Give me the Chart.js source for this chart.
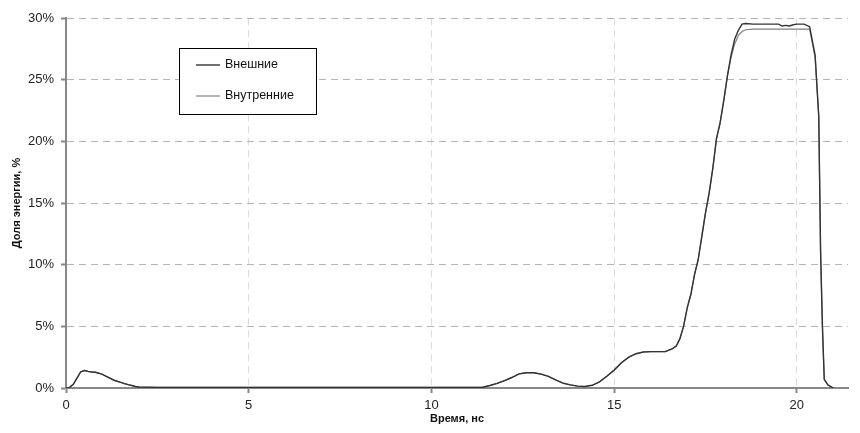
<!DOCTYPE html>
<html>
<head>
<meta charset="utf-8">
<script src="https://cdn.jsdelivr.net/npm/chart.js@4.4.0/dist/chart.umd.min.js"></script>
<style>
  html, body { margin: 0; padding: 0; background: #fff; }
</style>
</head>
<body>
<canvas id="energyChart" width="860" height="433"></canvas>
<script>
// время, нс
const timeNs = [0, 0.1, 0.2, 0.3, 0.4, 0.5, 0.6, 0.7, 0.8, 0.9, 1.0, 1.1, 1.2, 1.3, 1.4, 1.5, 1.6, 1.7, 1.8, 1.9, 2.0,
  2.5, 4, 6, 8, 10, 11, 11.4, 11.6, 11.8, 12.0, 12.2, 12.4, 12.6, 12.8, 13.0, 13.2, 13.4, 13.6, 13.8,
  14.0, 14.2, 14.4, 14.6, 14.8, 15.0, 15.2, 15.4, 15.6, 15.8, 16.0, 16.2, 16.4, 16.6, 16.7, 16.8, 16.9,
  17.0, 17.1, 17.2, 17.3, 17.4, 17.5, 17.6, 17.7, 17.8, 17.9, 18.0, 18.1, 18.2, 18.3, 18.4, 18.5, 18.6,
  18.8, 19.0, 19.2, 19.4, 19.5, 19.6, 19.7, 19.8, 19.9, 20.0, 20.2, 20.35, 20.5, 20.6, 20.65, 20.7,
  20.75, 20.85, 21.0];

// доля энергии, %
const outerShare = [0, 0.05, 0.3, 0.8, 1.3, 1.42, 1.35, 1.3, 1.28, 1.2, 1.1, 0.95, 0.8, 0.65, 0.55, 0.45, 0.35, 0.27, 0.2, 0.12, 0.08,
  0.05, 0.05, 0.05, 0.05, 0.05, 0.05, 0.06, 0.2, 0.38, 0.6, 0.85, 1.15, 1.24, 1.24, 1.12, 0.95, 0.65, 0.4, 0.25,
  0.15, 0.12, 0.22, 0.5, 0.95, 1.45, 2.05, 2.5, 2.78, 2.92, 2.95, 2.95, 2.95, 3.2, 3.4, 4.0, 5.0,
  6.5, 7.6, 9.2, 10.4, 12.3, 14.2, 15.8, 17.8, 20.2, 21.5, 23.3, 25.3, 27.0, 28.3, 29.0, 29.5, 29.55,
  29.5, 29.5, 29.5, 29.5, 29.5, 29.35, 29.4, 29.35, 29.45, 29.5, 29.5, 29.3, 27.0, 22.0, 11.0, 5.0,
  0.7, 0.25, 0];

const innerShare = [0, 0.05, 0.3, 0.8, 1.3, 1.42, 1.35, 1.3, 1.28, 1.2, 1.1, 0.95, 0.8, 0.65, 0.55, 0.45, 0.35, 0.27, 0.2, 0.12, 0.08,
  0.05, 0.05, 0.05, 0.05, 0.05, 0.05, 0.06, 0.2, 0.38, 0.6, 0.85, 1.15, 1.24, 1.24, 1.12, 0.95, 0.65, 0.4, 0.25,
  0.15, 0.12, 0.22, 0.5, 0.95, 1.45, 2.05, 2.5, 2.78, 2.92, 2.95, 2.95, 2.95, 3.2, 3.4, 4.0, 5.0,
  6.5, 7.6, 9.2, 10.4, 12.3, 14.2, 15.8, 17.8, 20.2, 21.5, 23.3, 25.3, 26.8, 27.9, 28.6, 28.9, 29.05,
  29.1, 29.1, 29.1, 29.1, 29.1, 29.1, 29.1, 29.1, 29.1, 29.1, 29.1, 29.1, 26.8, 22.0, 11.0, 5.0,
  0.7, 0.25, 0];

const seriesNames = ['Внешние', 'Внутренние'];
const yTicks = [0, 5, 10, 15, 20, 25, 30];
const xTicks = [0, 5, 10, 15, 20];

const toPoints = vals => timeNs.map((t, i) => ({ x: t, y: vals[i] }));

const FONT = "'Liberation Sans', Arial, sans-serif";
const AXIS = '#888888';

// рамка легенды внутри области графика
const boxLegend = {
  id: 'boxLegend',
  afterDatasetsDraw(chart) {
    const { ctx, chartArea } = chart;
    const x = chartArea.left + 113, y = chartArea.top + 30, w = 137, h = 66;
    ctx.save();
    ctx.fillStyle = '#fff';
    ctx.fillRect(x, y, w, h);
    ctx.strokeStyle = '#000';
    ctx.lineWidth = 1;
    ctx.strokeRect(x + 0.5, y + 0.5, w, h);
    ctx.font = '12.5px ' + FONT;
    ctx.textBaseline = 'middle';
    chart.data.datasets.forEach((ds, i) => {
      const ly = y + 17 + i * 31;
      ctx.strokeStyle = ds.borderColor;
      ctx.lineWidth = ds.borderWidth;
      ctx.beginPath();
      ctx.moveTo(x + 17, ly);
      ctx.lineTo(x + 41, ly);
      ctx.stroke();
      ctx.fillStyle = '#111';
      ctx.fillText(ds.label, x + 46, ly);
    });
    ctx.restore();
  }
};

const ctx = document.getElementById('energyChart').getContext('2d');
const energyChart = new Chart(ctx, {
  type: 'line',
  data: {
    datasets: [
      { label: seriesNames[0], data: toPoints(outerShare), borderColor: '#333333', borderWidth: 1.4, pointRadius: 0, tension: 0 },
      { label: seriesNames[1], data: toPoints(innerShare), borderColor: '#808080', borderWidth: 1.2, pointRadius: 0, tension: 0 }
    ]
  },
  options: {
    responsive: false,
    animation: false,
    layout: { padding: { left: 0, top: 18, right: 12, bottom: 0 } },
    plugins: { legend: { display: false }, tooltip: { enabled: false } },
    scales: {
      x: {
        type: 'linear',
        min: 0,
        max: 21.4,
        afterBuildTicks: s => { s.ticks = xTicks.map(v => ({ value: v })); },
        afterFit: s => { s.height = 45; },
        grid: { color: '#dcdcdc', lineWidth: 1, tickColor: AXIS, tickLength: 5, tickWidth: 2 },
        border: { color: AXIS, width: 2, dash: [7, 5] },
        ticks: { color: '#222', font: { family: FONT, size: 13 }, padding: 5, maxRotation: 0 },
        title: { display: true, text: 'Время, нс', color: '#111', font: { family: FONT, size: 11, weight: 'bold' }, padding: { top: 0, bottom: 7 } }
      },
      y: {
        min: 0,
        max: 30,
        afterBuildTicks: s => { s.ticks = yTicks.map(v => ({ value: v })); },
        afterFit: s => { s.width = 66; },
        grid: { color: '#b4b4b4', lineWidth: 1, tickColor: AXIS, tickLength: 5, tickWidth: 2 },
        border: { color: AXIS, width: 2, dash: [7, 5] },
        ticks: { color: '#222', font: { family: FONT, size: 13 }, padding: 7, callback: v => v + '%' },
        title: { display: true, text: 'Доля энергии, %', color: '#111', font: { family: FONT, size: 11, weight: 'bold' }, padding: { top: 10, bottom: 0 } }
      }
    }
  },
  plugins: [boxLegend]
});
</script>
</body>
</html>
